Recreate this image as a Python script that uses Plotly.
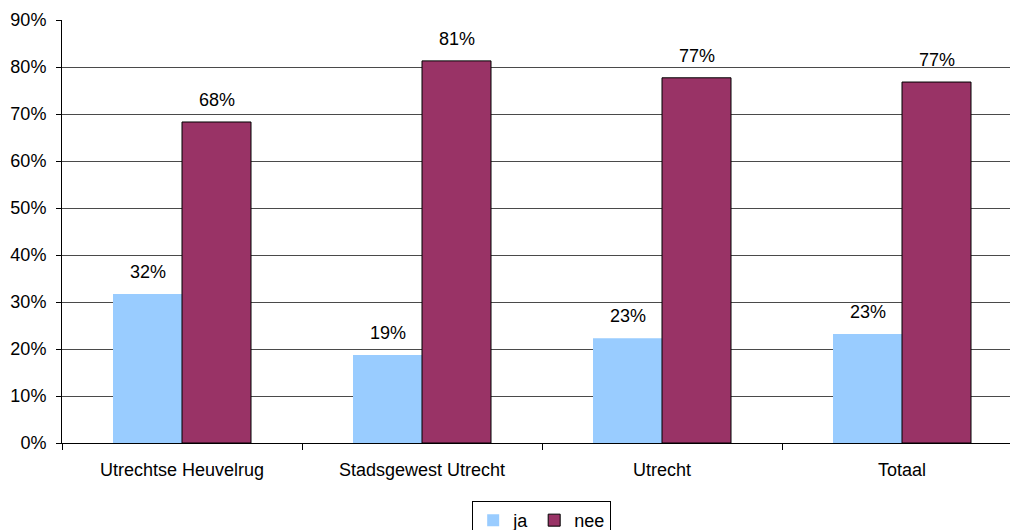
import plotly.graph_objects as go

categories = ["Utrechtse Heuvelrug", "Stadsgewest Utrecht", "Utrecht", "Totaal"]
ja = [31.7, 18.7, 22.3, 23.2]
nee = [68.3, 81.3, 77.7, 76.8]
ja_labels = ["32%", "19%", "23%", "23%"]
nee_labels = ["68%", "81%", "77%", "77%"]
y_ticks = [0, 10, 20, 30, 40, 50, 60, 70, 80, 90]
y_tick_text = [f"{v}%" for v in y_ticks]

FONT = "Liberation Sans, Arial, sans-serif"
FS = 18

fig = go.Figure()
fig.add_trace(go.Bar(name="ja", x=categories, y=ja, marker=dict(color="#99CCFF", line=dict(width=0))))
fig.add_trace(go.Bar(name="nee", x=categories, y=nee, marker=dict(color="#993366", line=dict(color="#000000", width=1))))

annotations = []
for c, v, t in zip(categories, ja, ja_labels):
    annotations.append(dict(x=c, y=v, text=t, showarrow=False, xshift=-34.5, yshift=22, yanchor="middle",
                            font=dict(family=FONT, size=FS, color="#000")))
for c, v, t in zip(categories, nee, nee_labels):
    annotations.append(dict(x=c, y=v, text=t, showarrow=False, xshift=34.5, yshift=22, yanchor="middle",
                            font=dict(family=FONT, size=FS, color="#000")))

fig.update_layout(
    width=1010, height=530,
    margin=dict(l=62, r=0, t=20, b=87, autoexpand=False),
    paper_bgcolor="white", plot_bgcolor="white",
    barmode="group", bargap=0.425, bargroupgap=0,
    font=dict(family=FONT, size=FS, color="#000"),
    annotations=annotations,
    showlegend=True,
    legend=dict(orientation="h", x=0.506, xanchor="center", y=-0.137, yanchor="top",
                bordercolor="#000", borderwidth=1, bgcolor="white",
                font=dict(family=FONT, size=FS), itemwidth=30, tracegroupgap=0,
                itemclick=False),
    xaxis=dict(type="category", range=[-0.5, 3.45], tickson="boundaries", ticks="outside", ticklen=6,
               tickcolor="#000", showline=True, linecolor="#000", linewidth=1, showgrid=False,
               ticklabelstandoff=10,
               tickfont=dict(family=FONT, size=FS)),
    yaxis=dict(range=[0, 90], tickvals=y_ticks, ticktext=y_tick_text, ticks="outside", ticklen=5,
               tickcolor="#000", showline=True, linecolor="#000", linewidth=1,
               showgrid=True, gridcolor="#4a4a4a", gridwidth=1, zeroline=False,
               ticklabelstandoff=6,
               tickfont=dict(family=FONT, size=FS)),
)

fig.write_html("out.html")
